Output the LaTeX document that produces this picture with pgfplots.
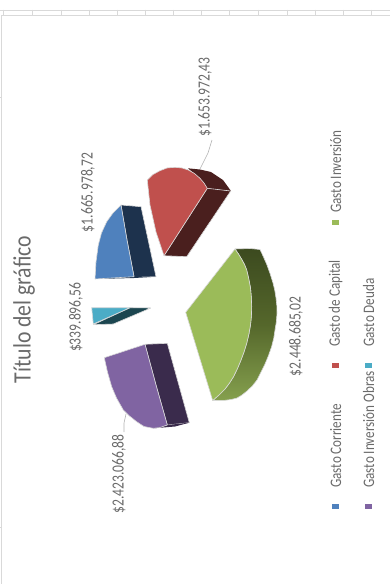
\documentclass[border=0pt]{standalone}
\usepackage{pgfplots}
\pgfplotsset{compat=1.18}
\usepackage{fontspec}
\setmainfont{Carlito}
\definecolor{txt}{HTML}{6A6A6A}
\definecolor{edge}{HTML}{D9D9D9}
\definecolor{cgreen}{HTML}{9BBB59}
\definecolor{cgreent}{HTML}{3C4A1F}
\definecolor{cgreenm}{HTML}{55672B}
\definecolor{cgreenb}{HTML}{85A04E}
\definecolor{cred}{HTML}{C0504D}
\definecolor{credd}{HTML}{4A1F1E}
\definecolor{cblue}{HTML}{4F81BD}
\definecolor{cblued}{HTML}{1D324D}
\definecolor{cteal}{HTML}{4BACC6}
\definecolor{ctealm}{HTML}{1C4650}
\definecolor{cpurple}{HTML}{8064A2}
\definecolor{cpurpled}{HTML}{3A2B4C}
\pgfplotsset{
  slice/.style={draw=edge, line width=0.6pt, line join=round},
  key/.style={draw=none, fill=#1},
  leader/.style={draw=#1, line width=0.6pt},
}
% narrow, tall lettering for the rotated labels
\newcommand{\lbl}[3]{\node[rotate=90, text=txt, font=\fontsize{17}{17}\selectfont, inner sep=0pt] at (axis cs:#1,#2) {\scalebox{0.8}[1]{#3}};}
\newcommand{\keytxt}[3]{\node[rotate=90, text=txt, font=\fontsize{16}{16}\selectfont, inner sep=0pt, anchor=west] at (axis cs:#1,#2) {\scalebox{0.82}[1]{#3}};}
\begin{document}
\begin{tikzpicture}
\path[use as bounding box] (0,0) rectangle (390pt,584pt);
\begin{axis}[
  at={(0,0)}, anchor=south west,
  scale only axis, width=390pt, height=584pt,
  xmin=0, xmax=390, ymin=0, ymax=584, y dir=reverse,
  hide axis, clip=true,
]
% sheet frame and ruler
\addplot[draw=edge, line width=1pt] coordinates {(1.5,584) (1.5,15.5) (390,15.5)};
\addplot[draw=edge, line width=0.7pt] coordinates {(0,10) (390,10)};
\foreach \t in {3,32,61,89,117,145,173,201,229,258,287,315,343,371}{
  \edef\tmp{\noexpand\addplot[draw=edge, line width=0.7pt] coordinates {(\t,9.5) (\t,14.5)};}\tmp
}
\addplot[draw=edge, line width=0.7pt] coordinates {(0,97) (2,97)};
\addplot[draw=edge, line width=0.7pt] coordinates {(0,527) (2,527)};

% Gasto Inversion
\addplot[slice, top color=cgreent, bottom color=cgreenb, middle color=cgreenm] coordinates {
 (235,249) (250,248.5) (260,249.5) (263.5,257) (267,265) (270.2,274) (273,283) (274.8,290.5) (276,298) (276.8,305.5) (277,313) (276.4,321.5) (275,330) (273.7,338.5) (271.5,347) (268.5,355.5) (265,364) (261,372) (257,380) (252.3,386) (247,391) (242,395) (237,398) (231,399.5) (225,400.3) (212.7,400.5)
 (219,395) (225,389) (229.5,383) (233.5,376.7) (237.5,368.5) (241,360) (244,352) (246.7,343.3) (248.9,334) (250.5,325) (251.4,316) (251.7,306.7) (251.3,297) (250.5,288) (248.8,279) (246.7,270) (244.5,264.5) (241.5,259) (238.5,254)} -- cycle;
\addplot[slice, fill=cgreen] coordinates {
 (185.7,312.3) (235,249) (238.5,254) (241.5,259) (244.5,264.5) (246.7,270) (248.8,279) (250.5,288) (251.3,297) (251.7,306.7) (251.4,316) (250.5,325) (248.9,334) (246.7,343.3) (244,352) (241,360) (237.5,368.5) (233.5,376.7) (229.5,383) (225,389) (219,395) (212.7,400.5)} -- cycle;

% Gasto de Capital
\addplot[slice, draw=none, fill=credd] coordinates {
 (188,168.3) (200,169.5) (211,172) (223,180) (231,191) (207.3,188.3) (200,178.3)} -- cycle;
\addplot[slice, fill=credd] coordinates {(207.3,188.3) (230.7,191) (186.7,256.7) (164,255.7)} -- cycle;
\addplot[slice, fill=cred] coordinates {
 (147.3,180) (153,174.5) (160,170.7) (167,168) (175,167.3) (182,168) (188.3,170) (194.5,173.5) (200,178.3) (204,183) (207.3,188.3) (164,255.7) (156,232) (150,205)} -- cycle;

% Gasto Corriente
\addplot[slice, fill=cblued] coordinates {(121,205) (141,206.7) (156,276.7) (134,276.7) (127,240)} -- cycle;
\addplot[draw=none, fill=cblued] coordinates {(95,279) (134,276) (156,276.7) (134,278)} -- cycle;
\addplot[slice, fill=cblue] coordinates {(121,205) (113,213) (106.7,221.7) (101.5,233) (98.3,245) (96,262) (95,279) (134,276.7) (127,240)} -- cycle;

% Gasto Deuda
\addplot[slice, fill=ctealm] coordinates {(130,307.7) (150.7,308) (113.3,324) (93.3,324.7)} -- cycle;
\addplot[slice, fill=cteal] coordinates {(91.7,307.7) (130,307.7) (93.3,324)} -- cycle;

% Gasto Inversion Obras
\addplot[slice, fill=cpurpled] coordinates {(145,344.3) (167.3,343.3) (189.3,422.7) (167.3,425) (156,385)} -- cycle;
\addplot[draw=none, fill=cpurpled] coordinates {(153.3,428.3) (167.3,425) (189.3,422.7) (175,426.5)} -- cycle;
\addplot[slice, fill=cpurple] coordinates {
 (104.3,357.7) (145,344.3) (156,385) (167.3,425) (160,427.5) (153.3,428.3) (144,426.5) (136.7,421.7) (129.5,416) (123.3,410) (116.5,398) (111.7,386.7) (107.5,372)} -- cycle;

% leader lines
\addplot[leader=gray!60] coordinates {(212,140) (208,153) (200,169)};
\addplot[leader=gray!60] coordinates {(124,432) (124,423) (126,414)};

% legend keys
\addplot[key=cblue] coordinates {(331.5,504) (338.5,504) (338.5,509) (331.5,509)} -- cycle;
\addplot[key=cpurple] coordinates {(364.5,504) (371.5,504) (371.5,509) (364.5,509)} -- cycle;
\addplot[key=cred] coordinates {(331.5,362.5) (338.5,362.5) (338.5,367.5) (331.5,367.5)} -- cycle;
\addplot[key=cteal] coordinates {(364.5,362.5) (371.5,362.5) (371.5,367.5) (364.5,367.5)} -- cycle;
\addplot[key=cgreen] coordinates {(331.5,219.5) (338.5,219.5) (338.5,224.5) (331.5,224.5)} -- cycle;

\node[rotate=90, text=txt, font=\fontsize{25}{26}\selectfont, inner sep=0pt] at (axis cs:24,309.5) {\scalebox{0.87}[1]{Título del gráfico}};

\lbl{205}{97}{\$1.653.972,43}
\lbl{88}{192.5}{\$1.665.978,72}
\lbl{76}{317.5}{\$339.896,56}
\lbl{296}{336.5}{\$2.448.685,02}
\lbl{119}{474}{\$2.423.066,88}

\keytxt{335.7}{488}{Gasto Corriente}
\keytxt{368.7}{488}{Gasto Inversión Obras}
\keytxt{335.7}{347}{Gasto de Capital}
\keytxt{368.7}{347}{Gasto Deuda}
\keytxt{335.7}{213}{Gasto Inversión}
\end{axis}
\end{tikzpicture}
\end{document}
